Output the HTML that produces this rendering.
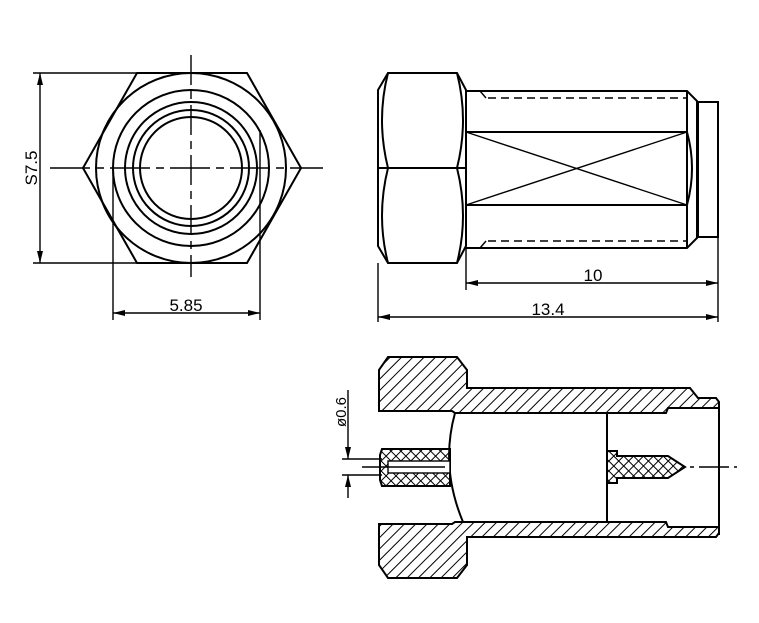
<!DOCTYPE html>
<html><head><style>html,body{margin:0;padding:0;background:#fff;}svg{display:block}</style></head>
<body>
<svg width="759" height="623" viewBox="0 0 759 623" xmlns="http://www.w3.org/2000/svg" font-family="Liberation Sans, sans-serif">
<defs>
<pattern id="h" width="8" height="8" patternUnits="userSpaceOnUse" patternTransform="rotate(45)">
<line x1="0" y1="0" x2="0" y2="8" stroke="#000" stroke-width="2"/></pattern>
<pattern id="x" width="7" height="7" patternUnits="userSpaceOnUse" patternTransform="rotate(45)">
<line x1="0" y1="0" x2="0" y2="7" stroke="#000" stroke-width="2"/><line x1="0" y1="0" x2="7" y2="0" stroke="#000" stroke-width="2"/></pattern>
<marker id="a" markerWidth="12" markerHeight="6" refX="12" refY="3" orient="auto" markerUnits="userSpaceOnUse"><path d="M0,0L12,3L0,6z" fill="#000"/></marker>
<marker id="b" markerWidth="12" markerHeight="6" refX="0" refY="3" orient="auto" markerUnits="userSpaceOnUse"><path d="M12,0L0,3L12,6z" fill="#000"/></marker>
</defs>
<g fill="none" stroke="#000" stroke-width="2">
<polygon points="137,73 247,73 301,168 247,263 137,263 83,168"/>
<circle cx="191" cy="168" r="95"/>
<circle cx="191" cy="168" r="78"/>
<circle cx="191" cy="168" r="66"/>
<circle cx="191" cy="168" r="58"/>
<circle cx="191" cy="168" r="51"/>
<line x1="50" y1="168" x2="323" y2="168" stroke-dasharray="40,6,8,6" stroke-width="1.4"/>
<line x1="191" y1="55" x2="191" y2="277" stroke-dasharray="30,6,8,6" stroke-width="1.4"/>
<line x1="33" y1="73" x2="137" y2="73" stroke-width="1.4"/>
<line x1="33" y1="263" x2="137" y2="263" stroke-width="1.4"/>
<line x1="40" y1="73" x2="40" y2="263" stroke-width="1.4" marker-start="url(#b)" marker-end="url(#a)"/>
<line x1="113" y1="168" x2="113" y2="320" stroke-width="1.4"/>
<line x1="260" y1="130" x2="260" y2="320" stroke-width="1.4"/>
<line x1="113" y1="313" x2="260" y2="313" stroke-width="1.4" marker-start="url(#b)" marker-end="url(#a)"/>
<polygon points="388,73 457,73 466,90 466,246 457,263 388,263 378,246 378,90"/>
<line x1="378" y1="168" x2="466" y2="168"/>
<path d="M388,73 Q376,120 388,168 Q376,216 388,263 M457,73 Q469,120 457,168 Q469,216 457,263"/>
<polyline points="466,91 687,91 697,101 697,238 687,248 466,248"/>
<line x1="687" y1="91" x2="687" y2="248"/>
<path d="M687,132 Q697,168 687,205"/>
<line x1="466" y1="132" x2="687" y2="132"/>
<line x1="466" y1="205" x2="687" y2="205"/>
<line x1="466" y1="132" x2="687" y2="205" stroke-width="1.4"/>
<line x1="466" y1="205" x2="687" y2="132" stroke-width="1.4"/>
<line x1="480" y1="91" x2="486" y2="98" stroke-width="1.4"/>
<line x1="480" y1="248" x2="486" y2="241" stroke-width="1.4"/>
<line x1="488" y1="98" x2="687" y2="98" stroke-dasharray="8,5" stroke-width="1.6"/>
<line x1="488" y1="241" x2="687" y2="241" stroke-dasharray="8,5" stroke-width="1.6"/>
<rect x="698" y="102" width="20" height="135"/>
<line x1="466" y1="248" x2="466" y2="290" stroke-width="1.4"/>
<line x1="718" y1="237" x2="718" y2="322" stroke-width="1.4"/>
<line x1="378" y1="263" x2="378" y2="322" stroke-width="1.4"/>
<line x1="466" y1="283" x2="718" y2="283" stroke-width="1.4" marker-start="url(#b)" marker-end="url(#a)"/>
<line x1="378" y1="317" x2="718" y2="317" stroke-width="1.4" marker-start="url(#b)" marker-end="url(#a)"/>
<path fill="url(#h)" d="M379,370 L388,357 L457,357 L467,370 L467,388 L690,388 L698,398 L716,398 L719,402 L719,408 L668,408 L666,413 L455,413 L452,411 L379,411 Z"/>
<path fill="url(#h)" d="M379,565 L388,578 L457,578 L467,565 L467,537 L716,537 L719,533 L719,527 L668,527 L666,522 L455,522 L452,524 L379,524 Z"/>
<line x1="719" y1="402" x2="719" y2="535"/>
<path d="M455,413 Q440,467 463,522"/>
<line x1="607" y1="413" x2="607" y2="522"/>
<path fill="url(#x)" d="M382,449 L450,449 L450,486 L382,486 L380,480 L380,455 Z"/>
<rect x="388" y="461" width="62" height="12" fill="#fff" stroke-width="1.4"/>
<path fill="url(#x)" d="M607,451 L617,451 L617,456 L668,456 L685,467 L668,478 L617,478 L617,483 L607,483 Z"/>
<line x1="690" y1="467" x2="737" y2="467" stroke-dasharray="4,5,30,5" stroke-width="1.6"/>
<line x1="348" y1="390" x2="348" y2="459" stroke-width="1.4" marker-end="url(#a)"/>
<line x1="348" y1="498" x2="348" y2="475" stroke-width="1.4" marker-end="url(#a)"/>
<line x1="342" y1="459" x2="382" y2="459" stroke-width="1.4"/>
<line x1="342" y1="475" x2="382" y2="475" stroke-width="1.4"/>
<line x1="362" y1="467" x2="445" y2="467" stroke-width="1.4"/>
</g>
<g font-size="17" fill="#000">
<text x="186" y="311" text-anchor="middle">5.85</text>
<text transform="translate(37,168) rotate(-90)" text-anchor="middle">S7.5</text>
<text x="593" y="281" text-anchor="middle">10</text>
<text x="548" y="315" text-anchor="middle">13.4</text>
<text transform="translate(346,412) rotate(-90)" text-anchor="middle" font-size="15">ø0.6</text>
</g>
</svg>
</body></html>
